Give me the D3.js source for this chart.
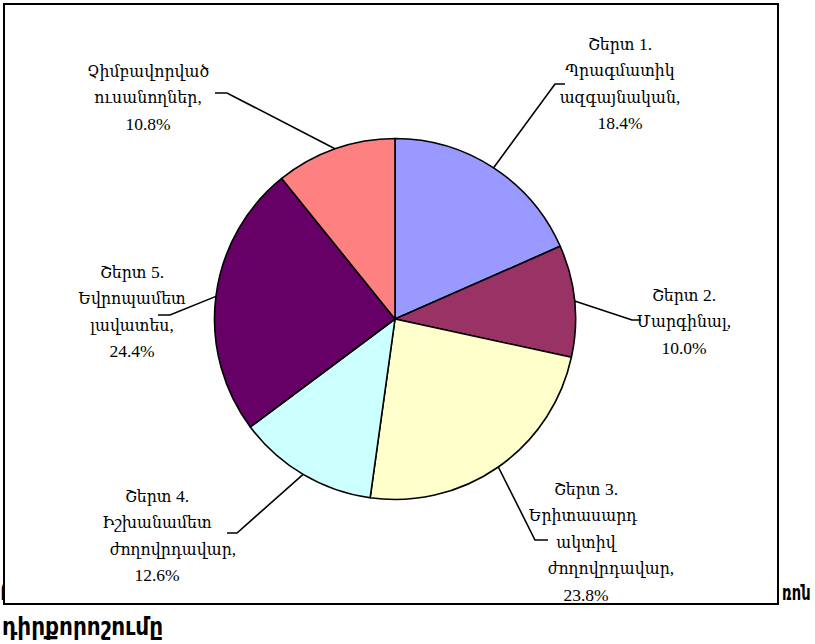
<!DOCTYPE html>
<html>
<head>
<meta charset="utf-8">
<script src="https://cdn.jsdelivr.net/npm/d3@7/dist/d3.min.js"></script>
<style>
  html, body { margin: 0; padding: 0; background: #fff; }
  svg { display: block; }
</style>
</head>
<body>
<svg id="chart" width="815" height="644"></svg>
<script>
// Student groups and their shares (percent)
const groupLines = [
  ["Շերտ 1.", "Պրագմատիկ", "ազգայնական,"],
  ["Շերտ 2.", "Մարգինալ,"],
  ["Շերտ 3.", "Երիտասարդ", "ակտիվ", "ժողովրդավար,"],
  ["Շերտ 4.", "Իշխանամետ", "ժողովրդավար,"],
  ["Շերտ 5.", "Եվրոպամետ", "լավատես,"],
  ["Չիմբավորված", "ուսանողներ,"]
];
const shares = [18.4, 10.0, 23.8, 12.6, 24.4, 10.8];
const sliceColors = ["#9999FF", "#993366", "#FFFFCC", "#CCFFFF", "#660066", "#FF8080"];
const captionTail = "դիրքորոշումը";

const svg = d3.select("#chart");
const serif = "'Liberation Serif', 'DejaVu Serif Condensed', 'DejaVu Serif', serif";
const bold = "'DejaVu Sans Condensed', 'DejaVu Sans', sans-serif";

// Caption text of the page, partly covered by the chart frame
svg.append("text")
  .attr("x", 2).attr("y", 635)
  .attr("font-family", bold)
  .attr("font-weight", "bold").attr("font-size", 24)
  .text(captionTail);
svg.append("text")
  .attr("x", 0).attr("y", 600)
  .attr("font-family", bold)
  .attr("font-weight", "bold").attr("font-size", 24)
  .text("Ր");
svg.append("g")
  .attr("transform", "translate(782,600) scale(0.74,1)")
  .append("text")
  .attr("font-family", bold)
  .attr("font-weight", "bold").attr("font-size", 22)
  .text("ռոն");

// Chart frame
svg.append("rect")
  .attr("x", 4).attr("y", 4).attr("width", 774).attr("height", 600)
  .attr("fill", "#fff").attr("stroke", "#000").attr("stroke-width", 2);

const cx = 395, cy = 319, r = 180.5;
const g = svg.append("g").attr("transform", `translate(${cx},${cy})`);

const pie = d3.pie().sort(null).value(d => d);
const arcs = pie(shares);
const arc = d3.arc().innerRadius(0).outerRadius(r);

g.selectAll("path.slice")
  .data(arcs)
  .join("path")
  .attr("class", "slice")
  .attr("d", arc)
  .attr("fill", (d, i) => sliceColors[i])
  .attr("stroke", "#000")
  .attr("stroke-width", 1.6)
  .attr("stroke-linejoin", "round");

// Label placement: elbow + end of leader, label centre and first baseline
const labelLayout = [
  { elbow: [555, 84],  end: [565, 84],  x: 620, y: 50,  lineDx: [0, 0, 0, 0] },
  { elbow: [632, 320], end: [641, 320], x: 684, y: 301, lineDx: [0, 0, 0] },
  { elbow: [535, 540], end: [548, 540], x: 586, y: 495, lineDx: [0, -3, 0, 25, 0] },
  { elbow: [237, 533], end: [227, 533], x: 157, y: 502, lineDx: [0, 0, 16, 0] },
  { elbow: [170, 315], end: [158, 315], x: 132, y: 278, lineDx: [0, 0, 0, 0] },
  { elbow: [227, 93],  end: [215, 93],  x: 148, y: 77,  lineDx: [0, 0, 0] }
];
const lineStep = 26.4;
const fmt = d3.format(".1f");

arcs.forEach((a, i) => {
  const mid = (a.startAngle + a.endAngle) / 2;
  const sx = cx + r * Math.sin(mid), sy = cy - r * Math.cos(mid);
  const L = labelLayout[i];
  svg.append("path")
    .attr("d", d3.line()([[sx, sy], L.elbow, L.end]))
    .attr("fill", "none").attr("stroke", "#000").attr("stroke-width", 1.6);

  const lines = groupLines[i].concat([fmt(shares[i]) + "%"]);
  const t = svg.append("text")
    .attr("font-family", serif).attr("font-size", 17.5)
    .attr("text-anchor", "middle").attr("fill", "#000");
  lines.forEach((s, k) => {
    t.append("tspan")
      .attr("x", L.x + (L.lineDx[k] || 0))
      .attr("y", L.y + k * lineStep)
      .text(s);
  });
});
</script>
</body>
</html>
